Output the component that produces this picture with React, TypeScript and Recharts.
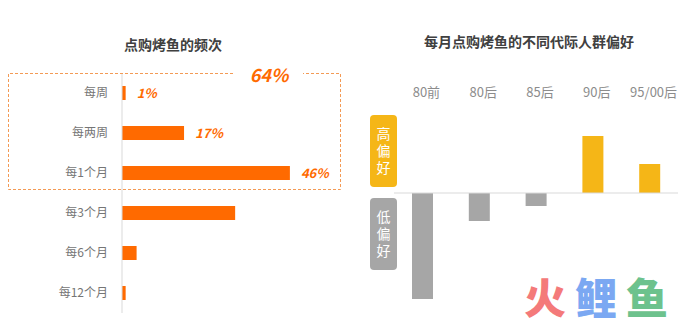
import React from 'react';
import { BarChart, Bar, XAxis, YAxis, Cell, LabelList, ReferenceLine } from 'recharts';

const freqCategories = ['每周', '每两周', '每1个月', '每3个月', '每6个月', '每12个月'];
const freqValues = [1, 17, 46, 31, 4, 1];
const highlightedCount = 3;

const genCategories = ['80前', '80后', '85后', '90后', '95/00后'];
const genValues = [-106, -28, -13, 57, 29];

const freqData = freqCategories.map((name, i) => ({
  name,
  value: freqValues[i],
  label: i < highlightedCount ? `${freqValues[i]}%` : '',
}));
const genData = genCategories.map((name, i) => ({ name, value: genValues[i] }));
const highlightTotal = freqValues.slice(0, highlightedCount).reduce((a, b) => a + b, 0);

const ORANGE = '#FF6A00';
const YELLOW = '#F5B617';
const GRAY = '#A6A6A6';
const FONT = '"Noto Sans CJK SC", "Noto Sans", sans-serif';

const tagStyle: React.CSSProperties = {
  position: 'absolute', left: 370, width: 27, height: 72, borderRadius: 4, color: '#fff',
  display: 'flex', alignItems: 'center', justifyContent: 'center',
};
const tagTextStyle: React.CSSProperties = {
  writingMode: 'vertical-rl', fontSize: 14, lineHeight: '14px', letterSpacing: 3, marginTop: 3,
};

export default function App() {
  return (
    <div style={{ position: 'absolute', left: 0, top: 0, width: 693, height: 320, background: '#fff', fontFamily: FONT, overflow: 'hidden' }}>
      {/* Titles */}
      <div style={{ position: 'absolute', left: 73, top: 34, width: 200, height: 20, lineHeight: '20px', textAlign: 'center', fontSize: 14, fontWeight: 'bold', color: '#404040' }}>点购烤鱼的频次</div>
      <div style={{ position: 'absolute', left: 379, top: 31, width: 300, height: 20, lineHeight: '20px', textAlign: 'center', fontSize: 14, fontWeight: 'bold', color: '#404040' }}>每月点购烤鱼的不同代际人群偏好</div>

      {/* Left chart */}
      <div style={{ position: 'absolute', left: 0, top: 0 }}>
        <BarChart width={350} height={320} data={freqData} layout="vertical" margin={{ top: 73, right: 45.5, bottom: 7, left: 0 }}>
          <XAxis type="number" hide domain={[0, 50]} allowDataOverflow />
          <YAxis type="category" dataKey="name" width={122} axisLine={{ stroke: '#d9d9d9' }} tickLine={false} tickSize={6} tickMargin={8} tick={{ fill: '#757575', fontSize: 12 }} interval={0} />
          <Bar dataKey="value" fill={ORANGE} barSize={14} isAnimationActive={false}>
            <LabelList dataKey="label" position="right" offset={11} style={{ fill: ORANGE, fontWeight: 'bold', fontStyle: 'italic', fontSize: 13 }} />
          </Bar>
        </BarChart>
      </div>

      {/* Dashed highlight box */}
      <svg width={693} height={320} style={{ position: 'absolute', left: 0, top: 0, pointerEvents: 'none' }}>
        <path d="M233 73.5 L8.5 73.5 L8.5 189.5 L340.5 189.5 L340.5 73.5 L303 73.5" fill="none" stroke="#F39A55" strokeWidth={1} strokeDasharray="3 2" />
        <text x={269} y={82} textAnchor="middle" fill={ORANGE} fontSize={18} fontWeight="bold" fontStyle="italic">{`${highlightTotal}%`}</text>
      </svg>

      {/* Right chart */}
      <div style={{ position: 'absolute', left: 350, top: 0 }}>
        <BarChart width={343} height={320} data={genData} margin={{ top: 75, right: 15, bottom: 7, left: 44 }}>
          <XAxis dataKey="name" orientation="top" axisLine={false} tickLine={false} height={30} interval={0} tick={{ fill: '#8c8c8c', fontSize: 13, dx: 4 }} />
          <YAxis hide type="number" domain={[-120, 88]} allowDataOverflow />
          <ReferenceLine y={0} stroke="#d9d9d9" />
          <Bar dataKey="value" barSize={21} isAnimationActive={false}>
            {genData.map((d, i) => (
              <Cell key={i} fill={d.value >= 0 ? YELLOW : GRAY} />
            ))}
          </Bar>
        </BarChart>
      </div>

      {/* Preference tags */}
      <div style={{ ...tagStyle, top: 115, background: YELLOW }}>
        <span style={tagTextStyle}>高偏好</span>
      </div>
      <div style={{ ...tagStyle, top: 198, background: GRAY }}>
        <span style={tagTextStyle}>低偏好</span>
      </div>

      {/* Logo */}
      <span style={{ position: 'absolute', left: 524, top: 275, fontSize: 42, lineHeight: '42px', fontWeight: 900, color: '#F47A7A' }}>火</span>
      <span style={{ position: 'absolute', left: 575, top: 275, fontSize: 42, lineHeight: '42px', fontWeight: 900, color: '#7BA8F2' }}>鲤</span>
      <span style={{ position: 'absolute', left: 626, top: 275, fontSize: 42, lineHeight: '42px', fontWeight: 900, color: '#6DC28D' }}>鱼</span>
    </div>
  );
}
